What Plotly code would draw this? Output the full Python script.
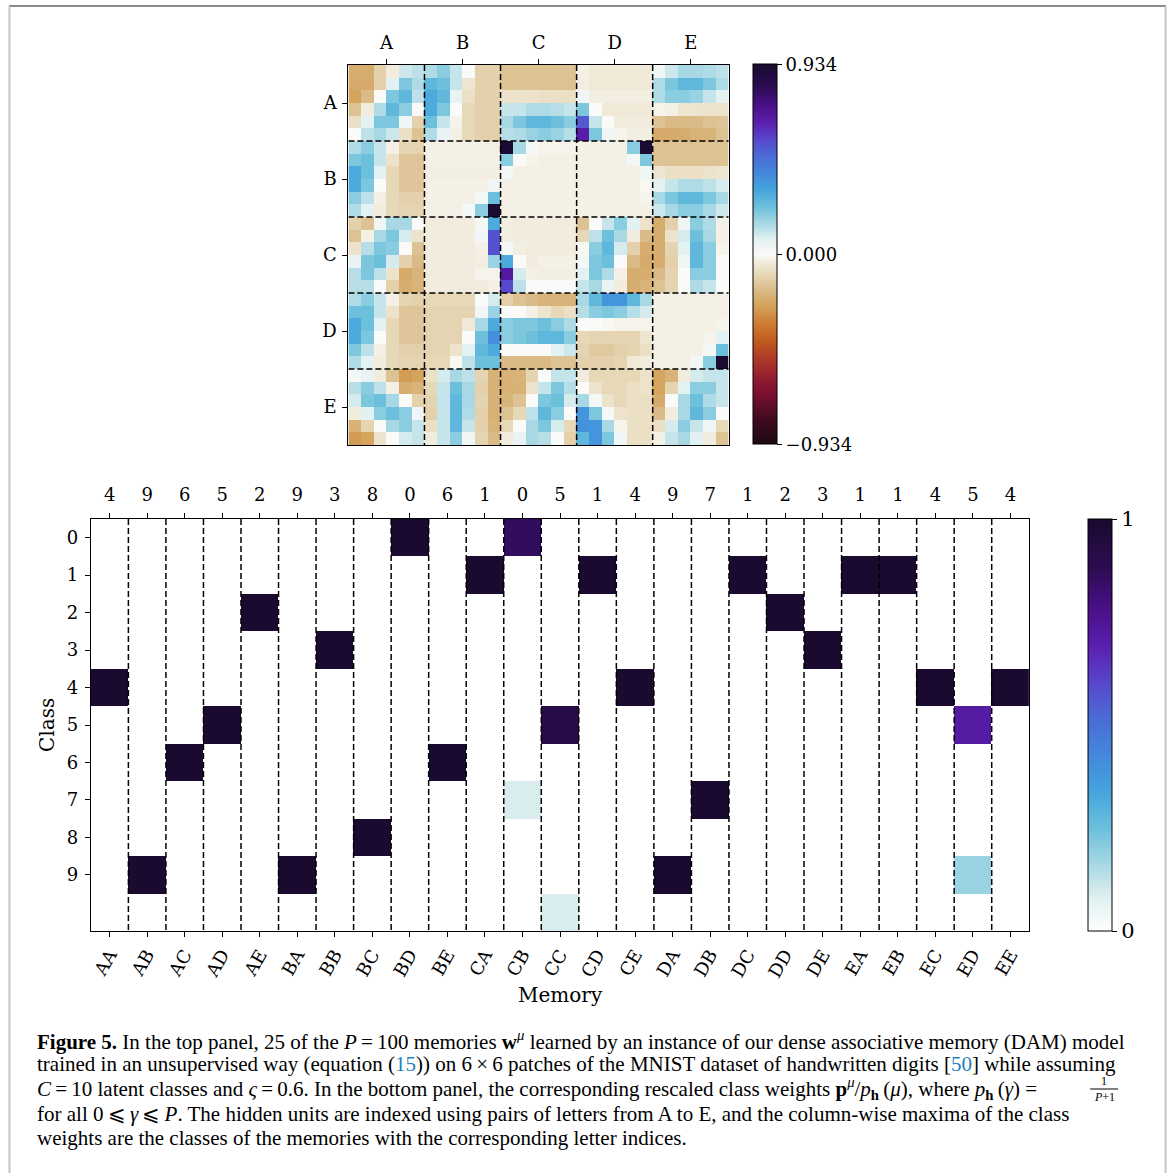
import plotly.graph_objects as go

W, H = 1170, 1173

# ---------------- data: top panel (25 memories, 5x5 blocks of 6x6 patches) ----------------
block_letters = ["A", "B", "C", "D", "E"]

rows_A = [
    [-0.22,-0.22,-0.12,-0.04,0.10,0.12, 0.14,0.19,0.11,0.00,-0.12,-0.12, -0.16,-0.16,-0.16,-0.16,-0.16,-0.16, -0.03,-0.05,-0.05,-0.05,-0.05,-0.05, 0.03,0.10,0.15,0.15,0.14,0.12],
    [-0.23,-0.23,-0.12,0.07,0.21,0.14, 0.26,0.23,0.11,-0.06,-0.12,-0.12, -0.16,-0.16,-0.16,-0.16,-0.16,-0.16, -0.035,-0.05,-0.05,-0.05,-0.05,-0.05, 0.14,0.21,0.26,0.26,0.21,0.14],
    [-0.25,-0.18,0.00,0.21,0.26,0.12, 0.30,0.26,0.05,-0.08,-0.12,-0.12, -0.07,-0.07,-0.07,-0.08,-0.08,-0.08, 0.03,-0.035,-0.035,-0.035,-0.035,-0.035, 0.14,0.19,0.19,0.17,0.11,0.07],
    [-0.16,-0.04,0.14,0.26,0.19,0.00, 0.30,0.21,0.00,-0.10,-0.12,-0.12, 0.11,0.11,0.14,0.14,0.13,0.11, 0.21,0.00,-0.05,-0.05,-0.05,-0.05, -0.02,-0.03,-0.06,-0.06,-0.07,-0.07],
    [-0.08,0.07,0.21,0.21,0.03,-0.12, 0.23,0.11,-0.02,-0.10,-0.12,-0.12, 0.15,0.21,0.26,0.26,0.23,0.19, 0.52,0.11,0.00,-0.04,-0.04,-0.04, -0.16,-0.18,-0.18,-0.18,-0.16,-0.15],
    [0.00,0.12,0.15,0.10,-0.08,-0.16, 0.14,0.05,-0.03,-0.10,-0.12,-0.12, 0.13,0.14,0.17,0.19,0.17,0.13, 0.66,0.21,0.03,-0.02,-0.035,-0.035, -0.23,-0.23,-0.22,-0.20,-0.20,-0.16],
]
rows_B = [
    [0.14,0.19,0.11,-0.03,-0.11,-0.11, -0.03,-0.03,-0.03,-0.03,-0.03,-0.03, 0.93,0.15,0.02,-0.02,-0.02,-0.02, -0.03,-0.03,-0.03,-0.03,0.19,0.93, -0.16,-0.16,-0.16,-0.16,-0.16,-0.16],
    [0.21,0.23,0.11,-0.07,-0.15,-0.15, -0.03,-0.03,-0.03,-0.03,-0.03,-0.03, 0.19,0.00,-0.02,-0.03,-0.03,-0.03, -0.03,-0.03,-0.03,-0.03,0.02,0.21, -0.16,-0.16,-0.16,-0.16,-0.16,-0.16],
    [0.30,0.23,0.07,-0.10,-0.15,-0.15, -0.035,-0.035,-0.035,-0.035,-0.035,-0.035, 0.02,-0.03,-0.03,-0.03,-0.03,-0.03, -0.03,-0.03,-0.03,-0.03,-0.03,0.03, -0.06,-0.08,-0.08,-0.08,-0.07,-0.06],
    [0.30,0.21,0.00,-0.10,-0.15,-0.15, -0.03,-0.03,-0.03,-0.03,-0.03,0.03, -0.03,-0.03,-0.03,-0.03,-0.03,-0.03, -0.03,-0.03,-0.03,-0.03,-0.03,-0.01, 0.07,0.11,0.14,0.14,0.12,0.09],
    [0.19,0.12,-0.03,-0.10,-0.12,-0.12, -0.03,-0.03,-0.03,-0.03,0.02,0.23, -0.03,-0.03,-0.03,-0.03,-0.03,-0.03, -0.03,-0.03,-0.03,-0.03,-0.03,-0.02, 0.15,0.21,0.26,0.26,0.21,0.15],
    [0.14,0.07,-0.04,-0.10,-0.11,-0.11, -0.03,-0.03,-0.03,0.02,0.19,0.93, -0.03,-0.03,-0.03,-0.03,-0.03,-0.03, -0.03,-0.03,-0.03,-0.03,-0.03,-0.03, 0.10,0.15,0.19,0.19,0.15,0.10],
]
rows_C = [
    [-0.12,-0.16,0.03,0.15,0.15,0.00, -0.04,-0.04,-0.04,-0.04,0.02,0.30, -0.035,-0.04,-0.04,-0.04,-0.04,-0.04, -0.16,0.00,0.11,0.19,0.07,-0.07, -0.22,-0.12,0.03,0.19,0.14,-0.03],
    [-0.16,-0.03,0.15,0.21,0.09,-0.07, -0.04,-0.04,-0.04,-0.04,0.03,0.54, -0.035,-0.04,-0.04,-0.04,-0.04,-0.04, -0.10,0.12,0.23,0.15,-0.04,-0.18, -0.22,-0.07,0.09,0.23,0.15,-0.03],
    [-0.07,0.13,0.21,0.19,0.00,-0.16, -0.04,-0.04,-0.04,-0.04,-0.03,0.54, 0.02,-0.035,-0.04,-0.04,-0.04,-0.04, -0.01,0.19,0.26,0.09,-0.12,-0.22, -0.22,-0.11,0.07,0.26,0.19,-0.02],
    [0.05,0.21,0.23,0.09,-0.12,-0.18, -0.04,-0.04,-0.04,-0.04,-0.035,0.17, 0.30,0.00,-0.04,-0.03,-0.03,-0.03, 0.02,0.21,0.23,0.00,-0.18,-0.23, -0.22,-0.12,0.03,0.26,0.19,0.00],
    [0.13,0.21,0.12,-0.07,-0.23,-0.20, -0.04,-0.04,-0.04,-0.04,-0.02,-0.02, 0.68,0.09,-0.03,-0.035,-0.035,-0.035, 0.07,0.21,0.14,-0.03,-0.22,-0.22, -0.18,-0.11,0.00,0.19,0.19,0.00],
    [0.13,0.13,0.00,-0.12,-0.22,-0.20, -0.04,-0.04,-0.04,-0.04,-0.04,-0.03, 0.56,0.12,0.00,0.00,0.00,0.00, 0.11,0.15,0.05,-0.04,-0.22,-0.20, -0.16,-0.11,0.00,0.14,0.11,0.00],
]
rows_D = [
    [0.14,0.19,0.11,-0.03,-0.11,-0.12, -0.10,-0.10,-0.10,-0.10,0.00,0.09, -0.12,-0.16,-0.18,-0.20,-0.20,-0.20, 0.15,0.26,0.36,0.36,0.26,0.15, -0.03,-0.03,-0.03,-0.03,-0.03,-0.03],
    [0.23,0.23,0.11,-0.07,-0.15,-0.15, -0.11,-0.11,-0.11,-0.11,0.03,0.17, 0.00,0.00,-0.03,-0.06,-0.10,-0.08, 0.13,0.19,0.21,0.19,0.13,0.09, -0.03,-0.03,-0.03,-0.03,-0.03,-0.03],
    [0.30,0.23,0.07,-0.10,-0.15,-0.15, -0.11,-0.11,-0.11,-0.05,0.15,0.30, 0.19,0.21,0.21,0.23,0.19,0.14, 0.00,0.00,-0.01,-0.02,-0.02,-0.02, -0.03,-0.03,-0.03,-0.03,-0.03,-0.02],
    [0.30,0.21,0.00,-0.10,-0.15,-0.15, -0.11,-0.11,-0.11,0.00,0.23,0.38, 0.19,0.21,0.23,0.26,0.26,0.19, -0.10,-0.11,-0.11,-0.11,-0.11,-0.06, -0.03,-0.03,-0.03,-0.03,-0.02,0.07],
    [0.21,0.12,-0.03,-0.10,-0.12,-0.12, -0.11,-0.11,-0.07,0.07,0.26,0.30, 0.00,0.00,0.00,0.00,0.07,0.10, -0.11,-0.14,-0.14,-0.12,-0.11,-0.08, -0.03,-0.03,-0.03,-0.03,0.02,0.23],
    [0.14,0.07,-0.04,-0.10,-0.11,-0.11, -0.10,-0.10,-0.01,0.12,0.23,0.23, -0.18,-0.18,-0.18,-0.18,-0.16,-0.16, -0.12,-0.12,-0.12,-0.11,-0.05,-0.04, -0.03,-0.03,-0.03,0.02,0.19,0.93],
]
rows_E = [
    [0.02,0.05,-0.04,-0.16,-0.27,-0.25, -0.08,0.09,0.15,0.12,-0.11,-0.21, -0.21,-0.20,-0.11,0.00,0.11,0.11, -0.04,-0.10,-0.10,-0.10,-0.10,-0.07, -0.25,-0.20,-0.04,0.09,0.11,0.11],
    [0.13,0.19,0.12,-0.03,-0.22,-0.20, -0.10,0.11,0.23,0.15,-0.12,-0.21, -0.21,-0.21,-0.07,0.11,0.21,0.13, 0.00,-0.07,-0.10,-0.10,-0.08,-0.07, -0.25,-0.11,0.07,0.19,0.19,0.11],
    [0.09,0.21,0.23,0.15,0.00,-0.12, -0.11,0.11,0.26,0.15,-0.11,-0.21, -0.20,-0.16,0.00,0.21,0.23,0.09, 0.15,0.02,-0.07,-0.10,-0.08,-0.08, -0.23,0.00,0.15,0.23,0.14,0.11],
    [-0.04,0.07,0.19,0.23,0.19,0.03, -0.12,0.11,0.26,0.14,-0.12,-0.21, -0.16,-0.10,0.12,0.26,0.19,0.00, 0.36,0.21,0.02,-0.07,-0.08,-0.08, -0.18,-0.04,0.15,0.26,0.19,0.00],
    [-0.21,-0.11,0.00,0.15,0.19,0.11, -0.08,0.11,0.26,0.11,-0.12,-0.20, -0.10,0.00,0.15,0.21,0.09,-0.10, 0.37,0.36,0.15,-0.02,-0.08,-0.08, -0.08,0.09,0.19,0.11,0.03,-0.10],
    [-0.27,-0.25,-0.07,0.00,0.09,0.11, -0.04,0.11,0.19,0.03,-0.11,-0.18, -0.04,0.05,0.15,0.13,0.00,-0.12, 0.26,0.36,0.21,0.03,-0.08,-0.08, -0.03,0.11,0.15,0.07,-0.04,-0.16],
]
weight_limit = 0.934

# ---------------- data: bottom panel (class weights) ----------------
memory_names = ["AA","AB","AC","AD","AE","BA","BB","BC","BD","BE","CA","CB","CC",
                "CD","CE","DA","DB","DC","DD","DE","EA","EB","EC","ED","EE"]
argmax_labels = ["4","9","6","5","2","9","3","8","0","6","1","0","5",
                 "1","4","9","7","1","2","3","1","1","4","5","4"]
class_labels = ["0","1","2","3","4","5","6","7","8","9"]
#                AA AB AC AD AE BA BB BC BD BE CA  CB   CC  CD CE DA DB DC DD DE EA EB EC  ED  EE
class_0  = [0, 0, 0, 0, 0, 0, 0, 0, 1, 0, 0, 0.86, 0,   0, 0, 0, 0, 0, 0, 0, 0, 0, 0, 0,    0]
class_1  = [0, 0, 0, 0, 0, 0, 0, 0, 0, 0, 1, 0,    0,   1, 0, 0, 0, 1, 0, 0, 1, 1, 0, 0,    0]
class_2  = [0, 0, 0, 0, 1, 0, 0, 0, 0, 0, 0, 0,    0,   0, 0, 0, 0, 0, 1, 0, 0, 0, 0, 0,    0]
class_3  = [0, 0, 0, 0, 0, 0, 1, 0, 0, 0, 0, 0,    0,   0, 0, 0, 0, 0, 0, 1, 0, 0, 0, 0,    0]
class_4  = [1, 0, 0, 0, 0, 0, 0, 0, 0, 0, 0, 0,    0,   0, 1, 0, 0, 0, 0, 0, 0, 0, 1, 0,    1]
class_5  = [0, 0, 0, 1, 0, 0, 0, 0, 0, 0, 0, 0,    0.92,0, 0, 0, 0, 0, 0, 0, 0, 0, 0, 0.72, 0]
class_6  = [0, 0, 1, 0, 0, 0, 0, 0, 0, 1, 0, 0,    0,   0, 0, 0, 0, 0, 0, 0, 0, 0, 0, 0,    0]
class_7  = [0, 0, 0, 0, 0, 0, 0, 0, 0, 0, 0, 0.09, 0,   0, 0, 0, 1, 0, 0, 0, 0, 0, 0, 0,    0]
class_8  = [0, 0, 0, 0, 0, 0, 0, 1, 0, 0, 0, 0,    0,   0, 0, 0, 0, 0, 0, 0, 0, 0, 0, 0,    0]
class_9  = [0, 1, 0, 0, 0, 1, 0, 0, 0, 0, 0, 0,    0,   0, 0, 1, 0, 0, 0, 0, 0, 0, 0, 0.18, 0]
class_10 = [0, 0, 0, 0, 0, 0, 0, 0, 0, 0, 0, 0,    0.09,0, 0, 0, 0, 0, 0, 0, 0, 0, 0, 0,    0]

# ---------------- styles ----------------
top_scale = [
    [0.00, "#1a0a14"], [0.066, "#400a20"], [0.13, "#7a1030"], [0.17, "#901a30"],
    [0.226, "#b03a28"], [0.27, "#c05a20"], [0.314, "#cc7a30"], [0.36, "#d4a058"],
    [0.40, "#d9b882"], [0.45, "#e8dabc"], [0.50, "#fafaf8"], [0.54, "#e0f0f0"],
    [0.58, "#a8d8e4"], [0.624, "#6cc0dc"], [0.67, "#44a4dc"], [0.712, "#4488dc"],
    [0.757, "#4a6cd6"], [0.80, "#5848cc"], [0.845, "#5a20b0"], [0.89, "#4a1088"],
    [0.942, "#2c0c50"], [1.00, "#1a0a30"],
]
bottom_scale = [
    [0.00, "#ffffff"], [0.08, "#e0f0f0"], [0.16, "#a8d8e4"], [0.248, "#6cc0dc"],
    [0.34, "#44a4dc"], [0.424, "#4488dc"], [0.514, "#4a6cd6"], [0.60, "#5848cc"],
    [0.69, "#5a20b0"], [0.78, "#4a1088"], [0.884, "#2c0c50"], [1.00, "#1a0a30"],
]
SERIF = "DejaVu Serif"
CAP = "Liberation Serif"


def px_x(p):
    return p / W


def px_y(p):
    return 1 - p / H


top_z = rows_A + rows_B + rows_C + rows_D + rows_E
bottom_z = [class_0, class_1, class_2, class_3, class_4, class_5, class_6,
            class_7, class_8, class_9, class_10]
n_pix = len(top_z)
n_mem = len(memory_names)
n_rows = len(bottom_z)
blk = n_pix // len(block_letters)
block_centers = [blk * k + (blk - 1) / 2 for k in range(len(block_letters))]

fig = go.Figure()

fig.add_trace(go.Heatmap(
    z=top_z, x=list(range(n_pix)), y=list(range(n_pix)),
    zmin=-weight_limit, zmax=weight_limit, colorscale=top_scale,
    xaxis="x", yaxis="y", hoverinfo="skip",
    colorbar=dict(
        x=px_x(752), xanchor="left", xpad=0, ypad=0,
        y=px_y(254.5), yanchor="middle", len=380, lenmode="pixels",
        thickness=24, thicknessmode="pixels",
        outlinewidth=1, outlinecolor="black",
        tickmode="array",
        tickvals=[-weight_limit, 0, weight_limit],
        ticktext=["\u22120.934", "0.000", "0.934"],
        ticks="outside", ticklen=5, tickcolor="black",
        tickfont=dict(family=SERIF, size=18, color="black"),
    ),
))

fig.add_trace(go.Heatmap(
    z=bottom_z, x=list(range(n_mem)), y=list(range(n_rows)),
    zmin=0, zmax=1, colorscale=bottom_scale,
    xaxis="x2", yaxis="y2", hoverinfo="skip",
    colorbar=dict(
        x=px_x(1088), xanchor="left", xpad=0, ypad=0,
        y=px_y(725), yanchor="middle", len=412, lenmode="pixels",
        thickness=24, thicknessmode="pixels",
        outlinewidth=1, outlinecolor="black",
        tickmode="array", tickvals=[0, 1], ticktext=["0", "1"],
        ticks="outside", ticklen=5, tickcolor="black",
        tickfont=dict(family=SERIF, size=21, color="black"),
    ),
))

# invisible trace to carry the top (argmax) axis of the bottom panel
fig.add_trace(go.Scatter(x=[0, n_mem - 1], y=[0, 0], mode="markers",
                         marker=dict(opacity=0), xaxis="x3", yaxis="y2",
                         hoverinfo="skip", showlegend=False))

axis_common = dict(showgrid=False, zeroline=False, showline=True, mirror=True,
                   linecolor="black", linewidth=1.3, ticks="outside", ticklen=5,
                   tickcolor="black", tickwidth=1.2,
                   tickfont=dict(family=SERIF, size=18, color="black"))

fig.update_layout(
    width=W, height=H,
    margin=dict(l=0, r=0, t=0, b=0),
    paper_bgcolor="white", plot_bgcolor="white",
    showlegend=False,
    xaxis=dict(axis_common, domain=[px_x(347), px_x(728)], anchor="y", side="top",
               range=[-0.5, n_pix - 0.5], tickmode="array", ticklabelstandoff=3,
               tickvals=block_centers, ticktext=block_letters),
    yaxis=dict(axis_common, domain=[px_y(445), px_y(65)], anchor="x",
               range=[n_pix - 0.5, -0.5], tickmode="array", ticklabelstandoff=2,
               tickvals=block_centers, ticktext=block_letters),
    xaxis2=dict(axis_common, domain=[px_x(89), px_x(1029)], anchor="y2", side="bottom",
                range=[-0.5, n_mem - 0.5], tickmode="array",
                tickvals=list(range(n_mem)), ticktext=memory_names, tickangle=-60),
    xaxis3=dict(axis_common, domain=[px_x(89), px_x(1029)], anchor="y2", side="top",
                overlaying="x2", range=[-0.5, n_mem - 0.5], tickmode="array",
                ticklabelstandoff=5,
                tickvals=list(range(n_mem)), ticktext=argmax_labels),
    yaxis2=dict(axis_common, domain=[px_y(931), px_y(519)], anchor="x2",
                range=[n_rows - 0.5, -0.5], tickmode="array", ticklabelstandoff=3,
                tickvals=list(range(len(class_labels))), ticktext=class_labels),
)

shapes = []
dash_line = dict(color="black", width=1.5, dash="6px,3px")
for k in range(1, len(block_letters)):
    b = blk * k - 0.5
    shapes.append(dict(type="line", xref="x", yref="y", x0=b, x1=b,
                       y0=-0.5, y1=n_pix - 0.5, line=dash_line))
    shapes.append(dict(type="line", xref="x", yref="y", y0=b, y1=b,
                       x0=-0.5, x1=n_pix - 0.5, line=dash_line))
for k in range(1, n_mem):
    b = k - 0.5
    shapes.append(dict(type="line", xref="x2", yref="y2", x0=b, x1=b,
                       y0=-0.5, y1=n_rows - 0.5, line=dash_line))

# figure frame
shapes.append(dict(type="line", xref="paper", yref="paper", x0=px_x(7), x1=px_x(1166),
                   y0=px_y(6), y1=px_y(6), line=dict(color="#8c8c8c", width=2)))
shapes.append(dict(type="line", xref="paper", yref="paper", x0=px_x(7.5), x1=px_x(7.5),
                   y0=px_y(6), y1=px_y(1173), line=dict(color="#c4c4c4", width=2)))
shapes.append(dict(type="line", xref="paper", yref="paper", x0=px_x(1165.5), x1=px_x(1165.5),
                   y0=px_y(6), y1=px_y(1173), line=dict(color="#c4c4c4", width=2)))
# fraction bar in caption
FRAC_X = 1104
shapes.append(dict(type="line", xref="paper", yref="paper", x0=px_x(FRAC_X - 14), x1=px_x(FRAC_X + 14),
                   y0=px_y(1089), y1=px_y(1089), line=dict(color="black", width=1)))
fig.update_layout(shapes=shapes)

annotations = [
    dict(text="Class", x=px_x(45), y=px_y(725), xref="paper", yref="paper",
         xanchor="center", yanchor="middle",
         showarrow=False, textangle=-90, font=dict(family=SERIF, size=20, color="black")),
    dict(text="Memory", x=px_x(559), y=px_y(995), xref="paper", yref="paper",
         xanchor="center", yanchor="middle",
         showarrow=False, font=dict(family=SERIF, size=20, color="black")),
]

link = "<span style='color:#1f80c0'>{}</span>"
caption_lines = [
    ("<b>Figure 5.</b> In the top panel, 25 of the <i>P</i>\u2009=\u2009100 memories "
     "<b>w</b><sup><i>\u03bc</i></sup> learned by an instance of our dense associative memory (DAM) model", 1040),
    ("trained in an unsupervised way (equation (" + link.format("15") + ")) on 6\u2009\u00d7\u20096 patches of "
     "the MNIST dataset of handwritten digits [" + link.format("50") + "] while assuming", 1064),
    ("<i>C</i>\u2009=\u200910 latent classes and <i>\u03c2</i>\u2009=\u20090.6. In the bottom panel, the corresponding "
     "rescaled class weights <b>p</b><sup><i>\u03bc</i></sup>/<i>p</i><sub><b>h</b></sub>\u2009(<i>\u03bc</i>), "
     "where <i>p</i><sub><b>h</b></sub>\u2009(<i>\u03b3</i>) =", 1088),
    ("for all 0\u2009\u2a7d\u2009<i>\u03b3</i>\u2009\u2a7d\u2009<i>P</i>. The hidden units are indexed using pairs "
     "of letters from A to E, and the column-wise maxima of the class", 1114),
    ("weights are the classes of the memories with the corresponding letter indices.", 1138),
]
for txt, yy in caption_lines:
    annotations.append(dict(text=txt, x=px_x(33), y=px_y(yy), xref="paper", yref="paper",
                            xanchor="left", yanchor="middle", showarrow=False, align="left",
                            font=dict(family=CAP, size=21, color="black")))
annotations.append(dict(text="1", x=px_x(FRAC_X), y=px_y(1081), xref="paper", yref="paper",
                        xanchor="center", yanchor="middle", borderpad=0,
                        showarrow=False, font=dict(family=CAP, size=12, color="black")))
annotations.append(dict(text="<i>P</i>+1", x=px_x(FRAC_X), y=px_y(1097), xref="paper", yref="paper",
                        xanchor="center", yanchor="middle", borderpad=0,
                        showarrow=False, font=dict(family=CAP, size=12, color="black")))
fig.update_layout(annotations=annotations)

fig.write_html("out.html")
